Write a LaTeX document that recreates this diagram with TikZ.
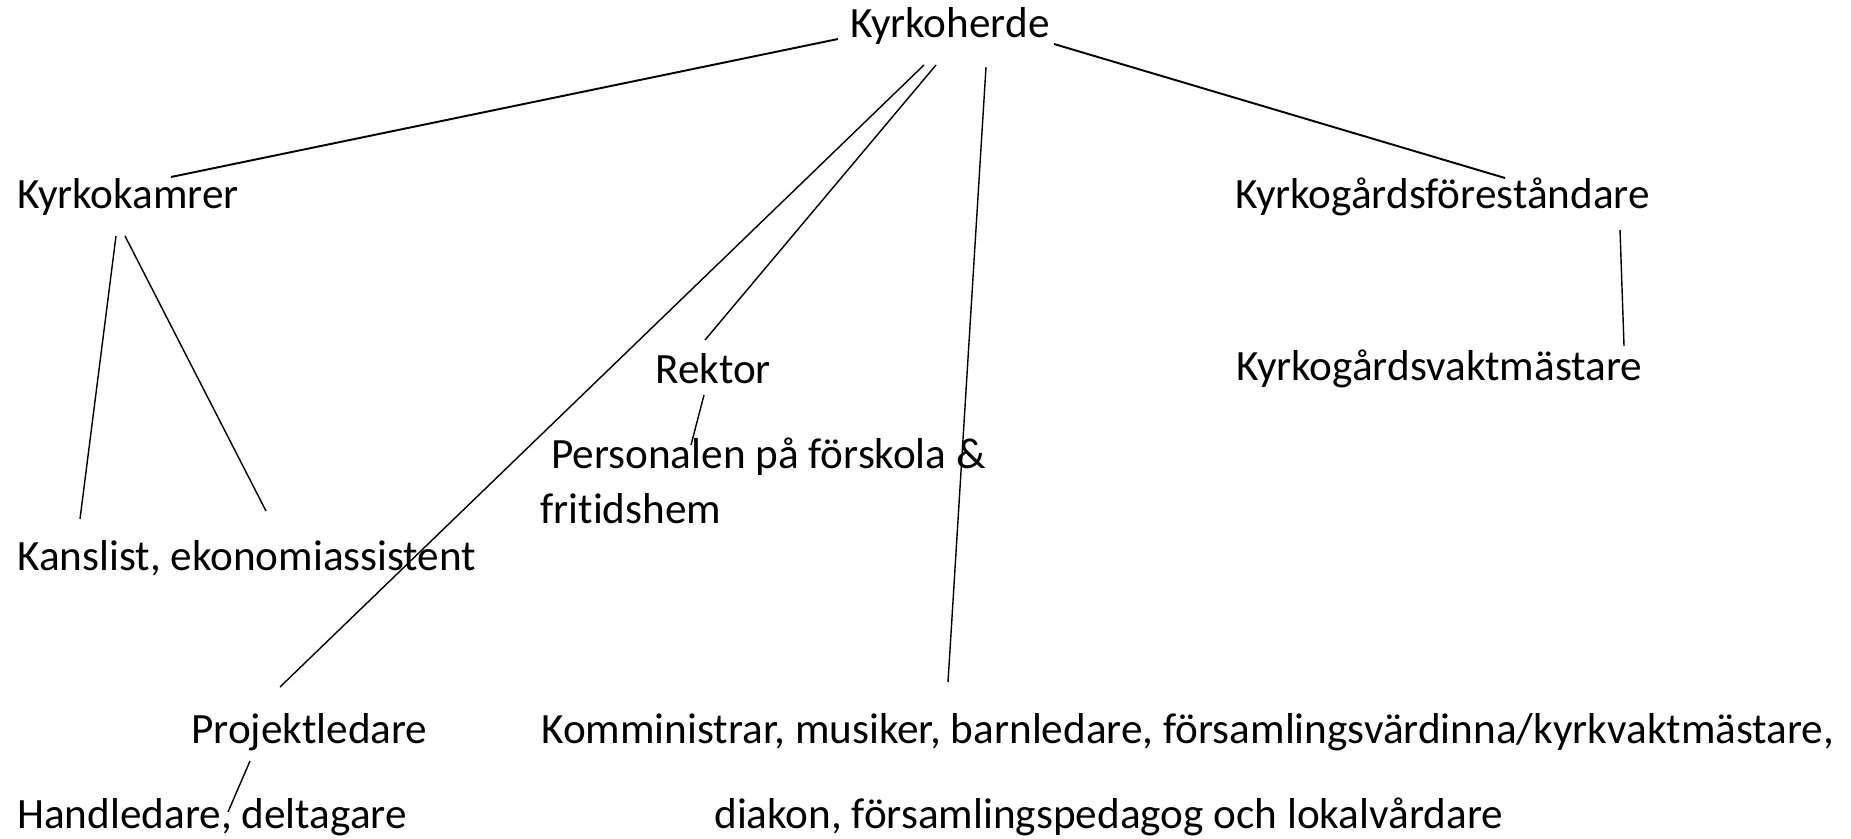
\documentclass[tikz,border=0pt]{standalone}
\usepackage{fontspec}
\setmainfont{Carlito}[Ligatures=NoCommon]
\begin{document}
\begin{tikzpicture}[x=0.02cm,y=-0.02cm,
        lbl/.style={anchor=west,inner sep=0pt,font=\fontsize{24.6pt}{31pt}\selectfont},
        tie/.style={line width=1.1pt},
        thin tie/.style={line width=0.8pt}]
        \useasboundingbox (0,0) rectangle (1851,838);
        %% Titles
        \node[lbl] (kh) at (850,26) {Kyrkoherde};
        \node[lbl] (kk) at (17,197) {Kyrkokamrer};
        \node[lbl] (kgf) at (1235,197) {Kyrkogårdsföreståndare};
        \node[lbl] (rek) at (655,369) {Rektor};
        \node[lbl] (kgv) at (1236,369) {Kyrkogårdsvaktmästare};
        \node[lbl,align=left] (pers) at (540,481) {\hspace*{0.25em}Personalen på förskola \&\\fritidshem};
        \node[lbl] (kan) at (17,558) {Kanslist, ekonomiassistent};
        \node[lbl] (proj) at (191,732) {Projektledare};
        \node[lbl] (hand) at (17,817) {Handledare, deltagare};
        \node[lbl] (kom) at (541,732) {Komministrar, musiker, barnledare, församlingsvärdinna/kyrkvaktmästare,};
        \node[lbl] (dia) at (714,817) {diakon, församlingspedagog och lokalvårdare};
        %% Lines from Kyrkoherde
        \draw[tie] ([shift={(-12,13)}]kh.west) -- ([shift={(154,-20)}]kk.west);
        \draw[tie] ([shift={(204,18)}]kh.west) -- ([shift={(270,-19)}]kgf.west);
        \draw[thin tie] ([shift={(74,39)}]kh.west) -- ([shift={(89,-45)}]proj.west);
        \draw[thin tie] ([shift={(86,39)}]kh.west) -- ([shift={(50,-29)}]rek.west);
        \draw[thin tie] ([shift={(136,41)}]kh.west) -- ([shift={(407,-50)}]kom.west);
        %% Lower lines
        \draw[thin tie] ([shift={(49,26)}]rek.west) -- ([shift={(151,-36)}]pers.west);
        \draw[thin tie] ([shift={(99,39)}]kk.west) -- ([shift={(63,-39)}]kan.west);
        \draw[thin tie] ([shift={(108,39)}]kk.west) -- ([shift={(249,-47)}]kan.west);
        \draw[thin tie] ([shift={(385,33)}]kgf.west) -- ([shift={(388,-23)}]kgv.west);
        \draw[thin tie] ([shift={(59,29)}]proj.west) -- ([shift={(211,-5)}]hand.west);
    \end{tikzpicture}
\end{document}
